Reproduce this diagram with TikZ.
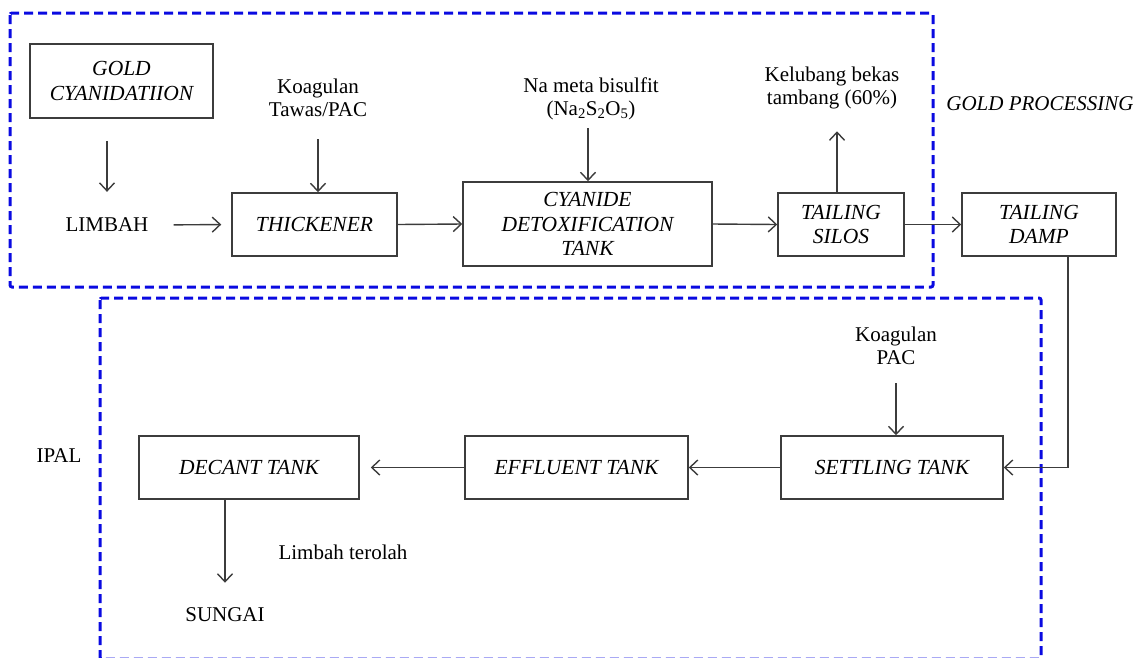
\documentclass[tikz,border=0pt]{standalone}
\usepackage{fontspec}
\setmainfont{Liberation Serif}
\usetikzlibrary{arrows.meta}
\definecolor{dashblue}{RGB}{10,10,225}
\definecolor{ink}{RGB}{60,60,60}
\begin{document}
\begin{tikzpicture}[x=1pt,y=-1pt,
  box/.style={draw=ink, line width=1.5pt, align=center, inner sep=0pt,
    font=\fontsize{21.5}{24.5}\selectfont\itshape},
  lbl/.style={align=center, inner sep=0pt, font=\fontsize{21}{23}\selectfont},
  arr/.style={draw=ink, line width=1.4pt, -{Straight Barb[length=8pt,width=15pt,line width=1.4pt]}},
  region/.style={draw=dashblue, line width=3pt, dash pattern=on 9pt off 5pt, rounded corners=2pt}]
\useasboundingbox (0,0) rectangle (1145,657);
% regions
\draw[region] (10,13) rectangle (933,287);
\draw[region] (100,298) rectangle (1041,659);
% boxes
\node[box, minimum width=183pt, minimum height=74pt] (gold) at (121.5,81) {GOLD\\CYANIDATIION};
\node[box, minimum width=165pt, minimum height=63pt] (thick) at (314.5,224.5) {THICKENER};
\node[box, minimum width=249pt, minimum height=84pt] (detox) at (587.5,224) {CYANIDE\\DETOXIFICATION\\TANK};
\node[box, minimum width=126pt, minimum height=63pt] (silos) at (841,224.5) {TAILING\\SILOS};
\node[box, minimum width=154pt, minimum height=63pt] (damp) at (1039,224.5) {TAILING\\DAMP};
\node[box, minimum width=222pt, minimum height=63pt] (settle) at (892,467.5) {SETTLING TANK};
\node[box, minimum width=223pt, minimum height=63pt] (effl) at (576.5,467.5) {EFFLUENT TANK};
\node[box, minimum width=220pt, minimum height=63pt] (decant) at (249,467.5) {DECANT TANK};
% labels
\node[lbl] (limbah) at (107,225) {LIMBAH};
\node[lbl] (koag1) at (318,98) {Koagulan\\Tawas/PAC};
\node[lbl] (nameta) at (591,99) {Na meta bisulfit\\(Na\textsubscript{2}S\textsubscript{2}O\textsubscript{5})};
\node[lbl] (kelub) at (832,88) {Kelubang bekas\\tambang (60\%)};
\node[lbl, font=\fontsize{21}{23}\selectfont\itshape] (gproc) at (1040,104) {GOLD PROCESSING};
\node[lbl] (koag2) at (896,346) {Koagulan\\PAC};
\node[lbl] (ipal) at (59,456) {IPAL};
\node[lbl] (sungai) at (225,615) {SUNGAI};
\node[lbl] (terolah) at (343,552) {Limbah terolah};
% connectors
\draw[arr, shorten <=22pt, shorten >=26pt] (limbah |- gold.south) -- (limbah.north);
\draw[arr, shorten <=25pt, shorten >=10pt] (limbah.east) -- (thick.west);
\draw[arr, shorten <=22pt] (koag1.south) -- (koag1.south |- thick.north);
\draw[arr] (thick.east) -- (detox.west);
\draw[arr, shorten <=8pt] ([xshift=-3pt]nameta.south) -- ([xshift=-3pt]nameta.south |- detox.north);
\draw[arr] (detox.east) -- (silos.west);
\draw[arr, shorten >=22pt] ([xshift=-4pt]silos.north) -- ([xshift=-4pt]silos.north |- kelub.south);
\draw[arr] (silos.east) -- (damp.west);
\draw[arr] ([xshift=29pt]damp.south) |- (settle.east);
\draw[arr, shorten <=18pt] (koag2.south) -- (koag2.south |- settle.north);
\draw[arr] (settle.west) -- (effl.west -| effl.east);
\draw[arr, shorten >=11pt] (effl.west) -- (decant.east);
\draw[arr, shorten >=25pt] (sungai.north |- decant.south) -- (sungai.north);
\end{tikzpicture}
\end{document}
